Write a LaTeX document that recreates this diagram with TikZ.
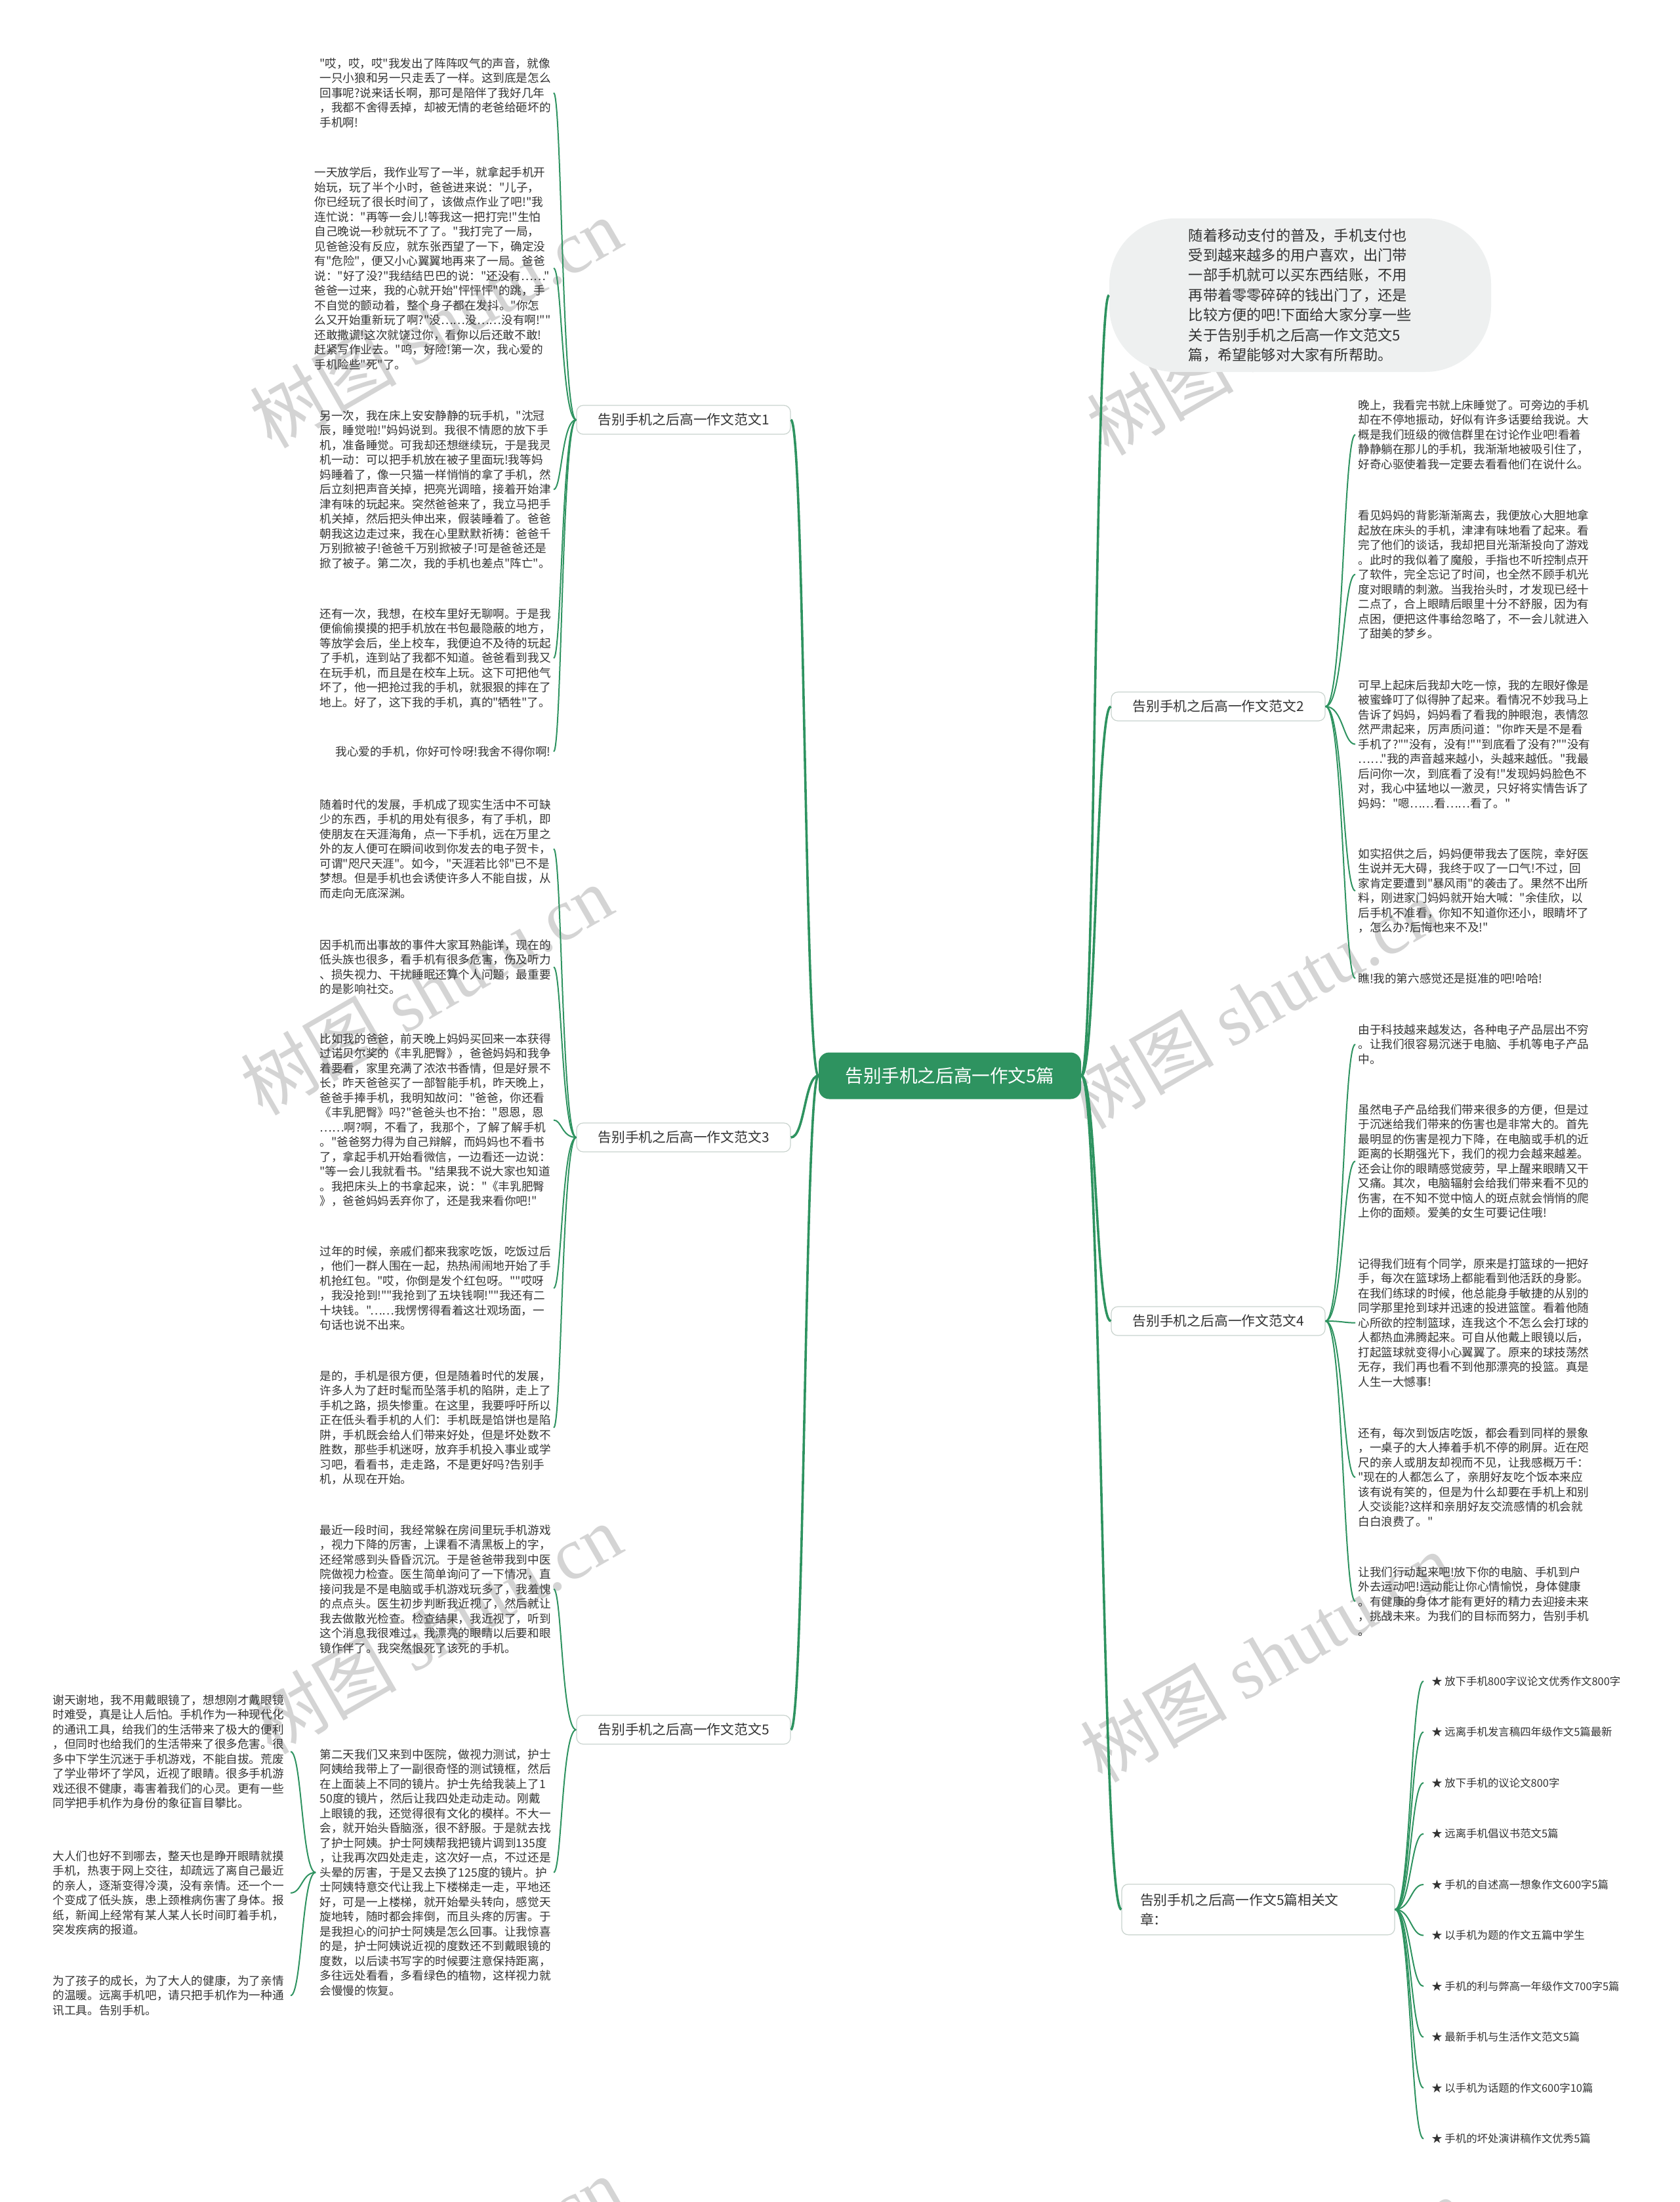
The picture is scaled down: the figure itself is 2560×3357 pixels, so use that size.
\documentclass[tikz,border=0pt]{standalone}
\usepackage{fontspec}
\newfontfamily\cjk{Noto Sans CJK SC}
\newfontfamily\wmlatin{Liberation Serif}
\setmainfont{Noto Sans CJK SC}
\usetikzlibrary{calc}
\definecolor{lgreen}{HTML}{2E9360}
\definecolor{bubblegray}{HTML}{EEF0F0}
\definecolor{txt}{HTML}{333333}
\definecolor{branchborder}{HTML}{C9D3CE}
\tikzset{
 leaf/.style={inner sep=0pt, align=left, text=txt, font=\cjk\fontsize{8.8pt}{11.25pt}\selectfont},
 lleaf/.style={leaf, anchor=north east},
 rleaf/.style={leaf, anchor=north west},
 branchnode/.style={draw=branchborder, fill=white, rounded corners=5pt, line width=0.6pt, text=txt,
   font=\cjk\fontsize{10.4pt}{13pt}\selectfont, minimum width=163pt, minimum height=22pt, inner sep=0pt},
 relnode/.style={draw=branchborder, fill=white, rounded corners=5pt, line width=0.6pt, text=txt, align=left,
   font=\cjk\fontsize{10.4pt}{15pt}\selectfont, text width=180pt, inner xsep=14pt, inner ysep=7pt},
 relitem/.style={anchor=west, inner sep=0pt, text=txt, font=\cjk\fontsize{8.2pt}{10pt}\selectfont},
 rootnode/.style={fill=lgreen, text=white, rounded corners=8pt, minimum width=200pt, minimum height=35.5pt,
   inner sep=0pt, font=\cjk\fontsize{13.8pt}{16pt}\selectfont},
 intronode/.style={fill=bubblegray, rounded corners=50pt, minimum width=291pt, minimum height=117pt,
   align=left, text=txt, inner sep=0pt, font=\cjk\fontsize{11.1pt}{15.2pt}\selectfont},
 mainline/.style={draw=lgreen, line width=1.8pt},
 leafline/.style={draw=lgreen, line width=1pt},
 wm/.style={text=black!17, font=\cjk\fontsize{56pt}{56pt}\selectfont, rotate=30, inner sep=0pt}
}
\newcommand\mmlink[4]{\draw[leafline] let \p1=(#1), \p2=(#2) in (\p1) .. controls ({\x1+(#3)},\y1) and ({\x1+(#3)},\y2) .. ({\x2+(#4)},\y2);}
\newcommand\mmmain[2]{\draw[mainline] let \p1=(#1), \p2=(#2) in (\p1) .. controls ({(\x1+\x2)/2},\y1) and ({(\x1+\x2)/2},\y2) .. (\p2);}
\begin{document}
\begin{tikzpicture}[x=0.5pt,y=-0.5pt]
\useasboundingbox (0,0) rectangle (2560,3357);
\fill[white] (0,0) rectangle (2560,3357);
\begin{scope}
\clip (0,0) rectangle (2560,3357);
\node[wm] (w1) at (664,492) {树图 {\wmlatin shutu.cn}};
\node[wm] (w2) at (650,1509) {树图 {\wmlatin shutu.cn}};
\node[wm] (w3) at (664,2483) {树图 {\wmlatin shutu.cn}};
\node[wm] (w4) at (664,3478) {树图 {\wmlatin shutu.cn}};
\node[wm] (w5) at (1940,503) {树图 {\wmlatin shutu.cn}};
\node[wm] (w6) at (1910,1530) {树图 {\wmlatin shutu.cn}};
\node[wm] (w7) at (1930,2526) {树图 {\wmlatin shutu.cn}};
\node[wm] (w8) at (1950,3510) {树图 {\wmlatin shutu.cn}};
\end{scope}

% root, intro and branches
\node[rootnode] (root) at (1448,1640) {告别手机之后高一作文5篇};
\node[intronode] (intro) at (1982,450) {随着移动支付的普及，手机支付也\\受到越来越多的用户喜欢，出门带\\一部手机就可以买东西结账，不用\\再带着零零碎碎的钱出门了，还是\\比较方便的吧!下面给大家分享一些\\关于告别手机之后高一作文范文5\\篇，希望能够对大家有所帮助。};
\node[branchnode] (b1) at (1042,640) {告别手机之后高一作文范文1};
\node[branchnode] (b3) at (1042,1734) {告别手机之后高一作文范文3};
\node[branchnode] (b5) at (1042,2637) {告别手机之后高一作文范文5};
\node[branchnode] (b2) at (1857,1077) {告别手机之后高一作文范文2};
\node[branchnode] (b4) at (1857,2014) {告别手机之后高一作文范文4};
\node[relnode] (rel) at (1918,2911) {告别手机之后高一作文5篇相关文\\章：};

% branch 1 leaves
\node[lleaf] (l1a) at (840,88) {"哎，哎，哎"我发出了阵阵叹气的声音，就像\\一只小狼和另一只走丢了一样。这到底是怎么\\回事呢?说来话长啊，那可是陪伴了我好几年\\，我都不舍得丢掉，却被无情的老爸给砸坏的\\手机啊!};
\node[lleaf] (l1b) at (840,254) {一天放学后，我作业写了一半，就拿起手机开\\始玩，玩了半个小时，爸爸进来说："儿子，\\你已经玩了很长时间了，该做点作业了吧!"我\\连忙说："再等一会儿!等我这一把打完!"生怕\\自己晚说一秒就玩不了了。"我打完了一局，\\见爸爸没有反应，就东张西望了一下，确定没\\有"危险"，便又小心翼翼地再来了一局。爸爸\\说："好了没?"我结结巴巴的说："还没有……"\\爸爸一过来，我的心就开始"怦怦怦"的跳，手\\不自觉的颤动着，整个身子都在发抖。"你怎\\么又开始重新玩了啊?"没……没……没有啊!""\\还敢撒谎!这次就饶过你，看你以后还敢不敢!\\赶紧写作业去。"呜，好险!第一次，我心爱的\\手机险些"死"了。};
\node[lleaf] (l1c) at (840,625) {另一次，我在床上安安静静的玩手机，"沈冠\\辰，睡觉啦!"妈妈说到。我很不情愿的放下手\\机，准备睡觉。可我却还想继续玩，于是我灵\\机一动：可以把手机放在被子里面玩!我等妈\\妈睡着了，像一只猫一样悄悄的拿了手机，然\\后立刻把声音关掉，把亮光调暗，接着开始津\\津有味的玩起来。突然爸爸来了，我立马把手\\机关掉，然后把头伸出来，假装睡着了。爸爸\\朝我这边走过来，我在心里默默祈祷：爸爸千\\万别掀被子!爸爸千万别掀被子!可是爸爸还是\\掀了被子。第二次，我的手机也差点"阵亡"。};
\node[lleaf] (l1d) at (840,927) {还有一次，我想，在校车里好无聊啊。于是我\\便偷偷摸摸的把手机放在书包最隐蔽的地方，\\等放学会后，坐上校车，我便迫不及待的玩起\\了手机，连到站了我都不知道。爸爸看到我又\\在玩手机，而且是在校车上玩。这下可把他气\\坏了，他一把抢过我的手机，就狠狠的摔在了\\地上。好了，这下我的手机，真的"牺牲"了。};
\node[lleaf] (l1e) at (840,1137) {我心爱的手机，你好可怜呀!我舍不得你啊!};

% branch 3 leaves
\node[lleaf] (l3a) at (840,1218) {随着时代的发展，手机成了现实生活中不可缺\\少的东西，手机的用处有很多，有了手机，即\\使朋友在天涯海角，点一下手机，远在万里之\\外的友人便可在瞬间收到你发去的电子贺卡，\\可谓"咫尺天涯"。如今，"天涯若比邻"已不是\\梦想。但是手机也会诱使许多人不能自拔，从\\而走向无底深渊。};
\node[lleaf] (l3b) at (840,1432) {因手机而出事故的事件大家耳熟能详，现在的\\低头族也很多，看手机有很多危害，伤及听力\\、损失视力、干扰睡眠还算个人问题，最重要\\的是影响社交。};
\node[lleaf] (l3c) at (840,1575) {比如我的爸爸，前天晚上妈妈买回来一本获得\\过诺贝尔奖的《丰乳肥臀》，爸爸妈妈和我争\\着要看，家里充满了浓浓书香情，但是好景不\\长，昨天爸爸买了一部智能手机，昨天晚上，\\爸爸手捧手机，我明知故问："爸爸，你还看\\《丰乳肥臀》吗?"爸爸头也不抬："恩恩，恩\\……啊?啊，不看了，我那个，了解了解手机\\。"爸爸努力得为自己辩解，而妈妈也不看书\\了，拿起手机开始看微信，一边看还一边说：\\"等一会儿我就看书。"结果我不说大家也知道\\。我把床头上的书拿起来，说："《丰乳肥臀\\》，爸爸妈妈丢弃你了，还是我来看你吧!"};
\node[lleaf] (l3d) at (840,1899) {过年的时候，亲戚们都来我家吃饭，吃饭过后\\，他们一群人围在一起，热热闹闹地开始了手\\机抢红包。"哎，你倒是发个红包呀。""哎呀\\，我没抢到!""我抢到了五块钱啊!""我还有二\\十块钱。"……我愣愣得看着这壮观场面，一\\句话也说不出来。};
\node[lleaf] (l3e) at (840,2089) {是的，手机是很方便，但是随着时代的发展，\\许多人为了赶时髦而坠落手机的陷阱，走上了\\手机之路，损失惨重。在这里，我要呼吁所以\\正在低头看手机的人们：手机既是馅饼也是陷\\阱，手机既会给人们带来好处，但是坏处数不\\胜数，那些手机迷呀，放弃手机投入事业或学\\习吧，看看书，走走路，不是更好吗?告别手\\机，从现在开始。};

% branch 5 leaves
\node[lleaf] (l5a) at (840,2324) {最近一段时间，我经常躲在房间里玩手机游戏\\，视力下降的厉害，上课看不清黑板上的字，\\还经常感到头昏昏沉沉。于是爸爸带我到中医\\院做视力检查。医生简单询问了一下情况，直\\接问我是不是电脑或手机游戏玩多了，我羞愧\\的点点头。医生初步判断我近视了，然后就让\\我去做散光检查。检查结果，我近视了，听到\\这个消息我很难过，我漂亮的眼睛以后要和眼\\镜作伴了。我突然恨死了该死的手机。};
\node[lleaf] (l5b) at (840,2666) {第二天我们又来到中医院，做视力测试，护士\\阿姨给我带上了一副很奇怪的测试镜框，然后\\在上面装上不同的镜片。护士先给我装上了1\\50度的镜片，然后让我四处走动走动。刚戴\\上眼镜的我，还觉得很有文化的模样。不大一\\会，就开始头昏脑涨，很不舒服。于是就去找\\了护士阿姨。护士阿姨帮我把镜片调到135度\\，让我再次四处走走，这次好一点，不过还是\\头晕的厉害，于是又去换了125度的镜片。护\\士阿姨特意交代让我上下楼梯走一走，平地还\\好，可是一上楼梯，就开始晕头转向，感觉天\\旋地转，随时都会摔倒，而且头疼的厉害。于\\是我担心的问护士阿姨是怎么回事。让我惊喜\\的是，护士阿姨说近视的度数还不到戴眼镜的\\度数，以后读书写字的时候要注意保持距离，\\多往远处看看，多看绿色的植物，这样视力就\\会慢慢的恢复。};
\node[lleaf] (l5c) at (433,2583) {谢天谢地，我不用戴眼镜了，想想刚才戴眼镜\\时难受，真是让人后怕。手机作为一种现代化\\的通讯工具，给我们的生活带来了极大的便利\\，但同时也给我们的生活带来了很多危害。很\\多中下学生沉迷于手机游戏，不能自拔。荒废\\了学业带坏了学风，近视了眼睛。很多手机游\\戏还很不健康，毒害着我们的心灵。更有一些\\同学把手机作为身份的象征盲目攀比。};
\node[lleaf] (l5d) at (433,2821) {大人们也好不到哪去，整天也是睁开眼睛就摸\\手机，热衷于网上交往，却疏远了离自己最近\\的亲人，逐渐变得冷漠，没有亲情。还一个一\\个变成了低头族，患上颈椎病伤害了身体。报\\纸，新闻上经常有某人某人长时间盯着手机，\\突发疾病的报道。};
\node[lleaf] (l5e) at (433,3011) {为了孩子的成长，为了大人的健康，为了亲情\\的温暖。远离手机吧，请只把手机作为一种通\\讯工具。告别手机。};

% branch 2 leaves
\node[rleaf] (r2a) at (2070,609) {晚上，我看完书就上床睡觉了。可旁边的手机\\却在不停地振动，好似有许多话要给我说。大\\概是我们班级的微信群里在讨论作业吧!看着\\静静躺在那儿的手机，我渐渐地被吸引住了，\\好奇心驱使着我一定要去看看他们在说什么。};
\node[rleaf] (r2b) at (2070,777) {看见妈妈的背影渐渐离去，我便放心大胆地拿\\起放在床头的手机，津津有味地看了起来。看\\完了他们的谈话，我却把目光渐渐投向了游戏\\。此时的我似着了魔般，手指也不听控制点开\\了软件，完全忘记了时间，也全然不顾手机光\\度对眼睛的刺激。当我抬头时，才发现已经十\\二点了，合上眼睛后眼里十分不舒服，因为有\\点困，便把这件事给忽略了，不一会儿就进入\\了甜美的梦乡。};
\node[rleaf] (r2c) at (2070,1036) {可早上起床后我却大吃一惊，我的左眼好像是\\被蜜蜂叮了似得肿了起来。看情况不妙我马上\\告诉了妈妈，妈妈看了看我的肿眼泡，表情忽\\然严肃起来，厉声质问道："你昨天是不是看\\手机了?""没有，没有!""到底看了没有?""没有\\……"我的声音越来越小，头越来越低。"我最\\后问你一次，到底看了没有!"发现妈妈脸色不\\对，我心中猛地以一激灵，只好将实情告诉了\\妈妈："嗯……看……看了。"};
\node[rleaf] (r2d) at (2070,1293) {如实招供之后，妈妈便带我去了医院，幸好医\\生说并无大碍，我终于叹了一口气!不过，回\\家肯定要遭到"暴风雨"的袭击了。果然不出所\\料，刚进家门妈妈就开始大喊："余佳欣，以\\后手机不准看，你知不知道你还小，眼睛坏了\\，怎么办?后悔也来不及!"};
\node[rleaf] (r2e) at (2070,1483) {瞧!我的第六感觉还是挺准的吧!哈哈!};

% branch 4 leaves
\node[rleaf] (r4a) at (2070,1561) {由于科技越来越发达，各种电子产品层出不穷\\。让我们很容易沉迷于电脑、手机等电子产品\\中。};
\node[rleaf] (r4b) at (2070,1683) {虽然电子产品给我们带来很多的方便，但是过\\于沉迷给我们带来的伤害也是非常大的。首先\\最明显的伤害是视力下降，在电脑或手机的近\\距离的长期强光下，我们的视力会越来越差。\\还会让你的眼睛感觉疲劳，早上醒来眼睛又干\\又痛。其次，电脑辐射会给我们带来看不见的\\伤害，在不知不觉中恼人的斑点就会悄悄的爬\\上你的面颊。爱美的女生可要记住哦!};
\node[rleaf] (r4c) at (2070,1918) {记得我们班有个同学，原来是打篮球的一把好\\手，每次在篮球场上都能看到他活跃的身影。\\在我们练球的时候，他总能身手敏捷的从别的\\同学那里抢到球并迅速的投进篮筐。看着他随\\心所欲的控制篮球，连我这个不怎么会打球的\\人都热血沸腾起来。可自从他戴上眼镜以后，\\打起篮球就变得小心翼翼了。原来的球技荡然\\无存，我们再也看不到他那漂亮的投篮。真是\\人生一大憾事!};
\node[rleaf] (r4d) at (2070,2176) {还有，每次到饭店吃饭，都会看到同样的景象\\，一桌子的大人捧着手机不停的刷屏。近在咫\\尺的亲人或朋友却视而不见，让我感概万千：\\"现在的人都怎么了，亲朋好友吃个饭本来应\\该有说有笑的，但是为什么却要在手机上和别\\人交谈能?这样和亲朋好友交流感情的机会就\\白白浪费了。"};
\node[rleaf] (r4e) at (2070,2388) {让我们行动起来吧!放下你的电脑、手机到户\\外去运动吧!运动能让你心情愉悦，身体健康\\。有健康的身体才能有更好的精力去迎接未来\\，挑战未来。为我们的目标而努力，告别手机\\。};

% related items
\node[relitem] (i1) at (2182,2563) {★ 放下手机800字议论文优秀作文800字};
\node[relitem] (i2) at (2182,2640.5) {★ 远离手机发言稿四年级作文5篇最新};
\node[relitem] (i3) at (2182,2718) {★ 放下手机的议论文800字};
\node[relitem] (i4) at (2182,2795.5) {★ 远离手机倡议书范文5篇};
\node[relitem] (i5) at (2182,2873) {★ 手机的自述高一想象作文600字5篇};
\node[relitem] (i6) at (2182,2950.5) {★ 以手机为题的作文五篇中学生};
\node[relitem] (i7) at (2182,3028) {★ 手机的利与弊高一年级作文700字5篇};
\node[relitem] (i8) at (2182,3105.5) {★ 最新手机与生活作文范文5篇};
\node[relitem] (i9) at (2182,3183) {★ 以手机为话题的作文600字10篇};
\node[relitem] (i10) at (2182,3260.5) {★ 手机的坏处演讲稿作文优秀5篇};

% main connectors
\mmmain{root.west}{b1.east}
\mmmain{root.west}{b3.east}
\mmmain{root.west}{b5.east}
\mmmain{root.east}{intro.west}
\mmmain{root.east}{b2.west}
\mmmain{root.east}{b4.west}
\mmmain{root.east}{rel.west}

% leaf connectors
\foreach \l in {l1a,l1b,l1c,l1d,l1e} {\mmlink{b1.west}{\l.east}{-11pt}{2pt}}
\foreach \l in {l3a,l3b,l3c,l3d,l3e} {\mmlink{b3.west}{\l.east}{-11pt}{2pt}}
\foreach \l in {l5a,l5b} {\mmlink{b5.west}{\l.east}{-11pt}{2pt}}
\coordinate (s5b) at ($(l5b.west)+(-6,0)$);
\foreach \l in {l5c,l5d,l5e} {\mmlink{s5b}{\l.east}{-10.5pt}{5pt}}
\foreach \l in {r2a,r2b,r2c,r2d,r2e} {\mmlink{b2.east}{\l.west}{13.5pt}{-2pt}}
\foreach \l in {r4a,r4b,r4c,r4d,r4e} {\mmlink{b4.east}{\l.west}{13.5pt}{-2pt}}
\foreach \l in {i1,i2,i3,i4,i5,i6,i7,i8,i9,i10} {\mmlink{rel.east}{\l.west}{12pt}{-6pt}}
\end{tikzpicture}
\end{document}
